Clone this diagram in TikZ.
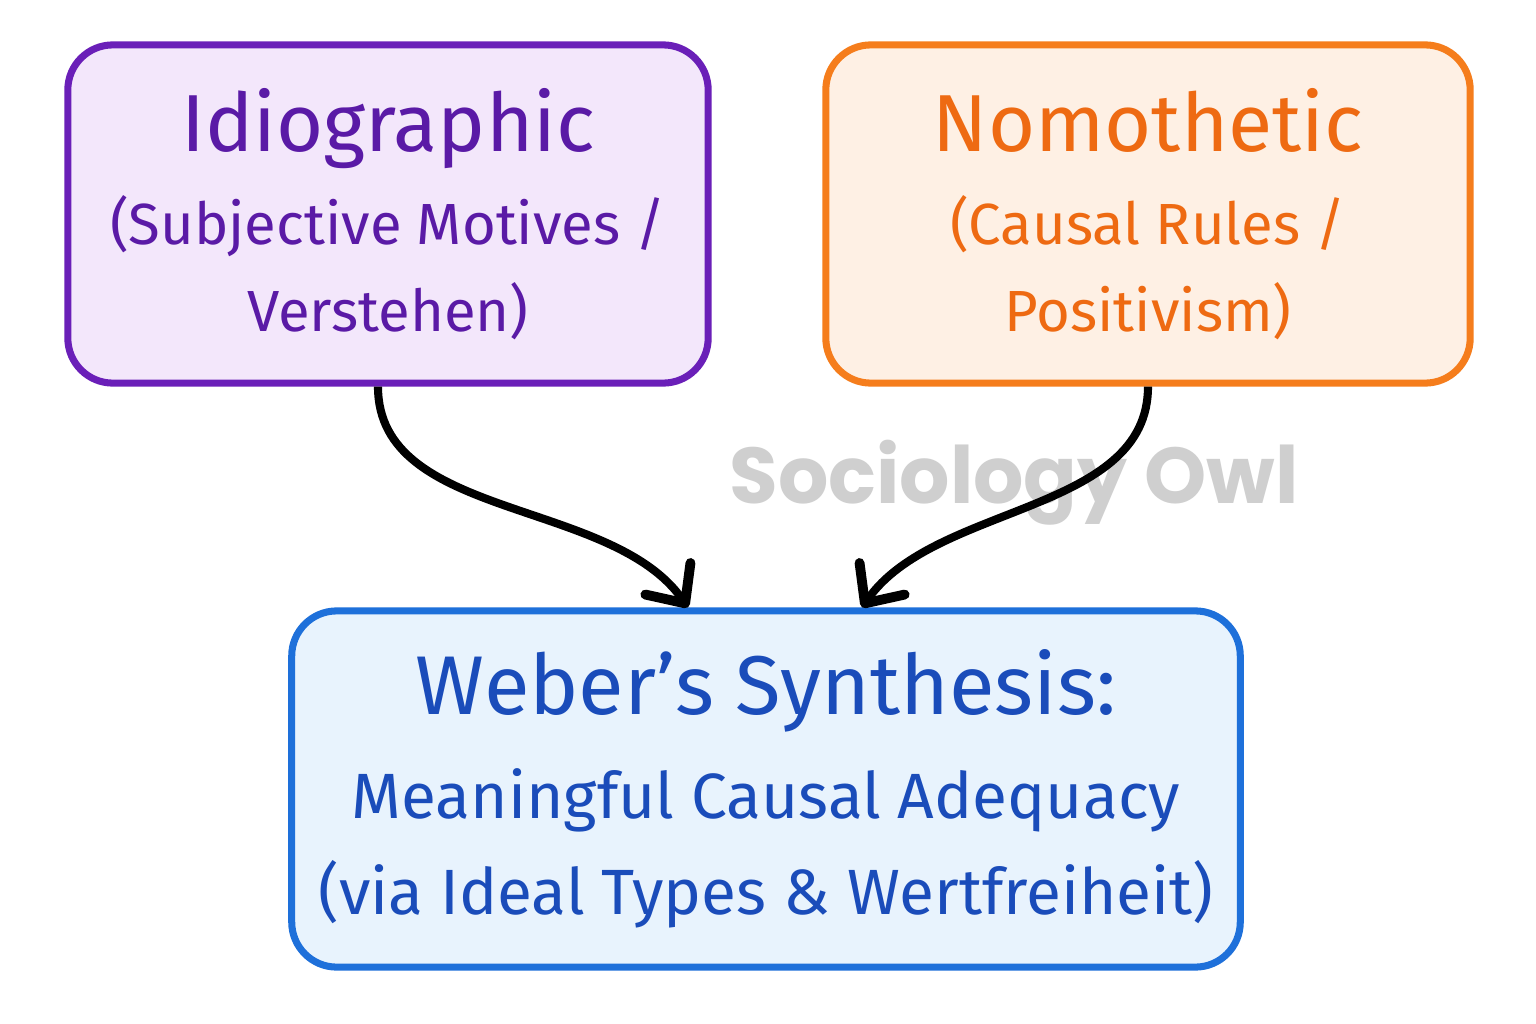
\documentclass[tikz,border=0pt]{standalone}
\usepackage{fontspec}
\setmainfont{Fira Sans}
\newfontfamily\owlfont{Poppins}
\usetikzlibrary{arrows.meta}
\definecolor{idioline}{HTML}{6A1FB8}
\definecolor{idiofill}{HTML}{F3E7FB}
\definecolor{idiotext}{HTML}{5A1AA6}
\definecolor{nomoline}{HTML}{F57D1C}
\definecolor{nomofill}{HTML}{FEF0E4}
\definecolor{nomotext}{HTML}{EE6A12}
\definecolor{webline}{HTML}{1E70DA}
\definecolor{webfill}{HTML}{E8F3FD}
\definecolor{webtext}{HTML}{1A4CBA}
\tikzset{
  card/.style={draw,line width=2pt,rounded corners=0.45cm,align=center,inner sep=0pt},
  flow/.style={line width=2.3pt,-{Straight Barb[length=0.3cm,width=0.55cm,line width=2.8pt,round]}}
}
\begin{document}
\begin{tikzpicture}[x=0.01cm,y=-0.01cm]
	\useasboundingbox[fill=white] (0,0) rectangle (1536,1024);
	\node[text=black!19,font=\owlfont\bfseries\fontsize{22.5}{27}\selectfont] (owl) at (1014,483) {Sociology Owl};
	\node[card,draw=idioline,fill=idiofill,text=idiotext,minimum width=6.4cm,minimum height=3.38cm,
	  font=\fontsize{16.5}{24.5}\selectfont] (idio) at (388,214)
	  {{\fontsize{23}{27}\selectfont Idiographic}\\[2pt](Subjective Motives /\\Verstehen)};
	\node[card,draw=nomoline,fill=nomofill,text=nomotext,minimum width=6.44cm,minimum height=3.38cm,
	  font=\fontsize{16.5}{24.5}\selectfont] (nomo) at (1148,214)
	  {{\fontsize{23}{27}\selectfont Nomothetic}\\[2pt](Causal Rules /\\Positivism)};
	\node[card,draw=webline,fill=webfill,text=webtext,minimum width=9.48cm,minimum height=3.56cm,
	  font=\fontsize{18.2}{27.5}\selectfont] (web) at (766,789)
	  {{\fontsize{23.7}{28}\selectfont Weber’s Synthesis:}\\[2pt]Meaningful Causal Adequacy\\(via Ideal Types \& Wertfreiheit)};
	\draw[flow] ([xshift=-0.1cm]idio.south) to[out=-90,in=125,looseness=0.9] ([xshift=-0.78cm]web.north);
	\draw[flow] ([xshift=0cm]nomo.south) to[out=-90,in=55,looseness=0.9] ([xshift=0.96cm]web.north);
\end{tikzpicture}
\end{document}
